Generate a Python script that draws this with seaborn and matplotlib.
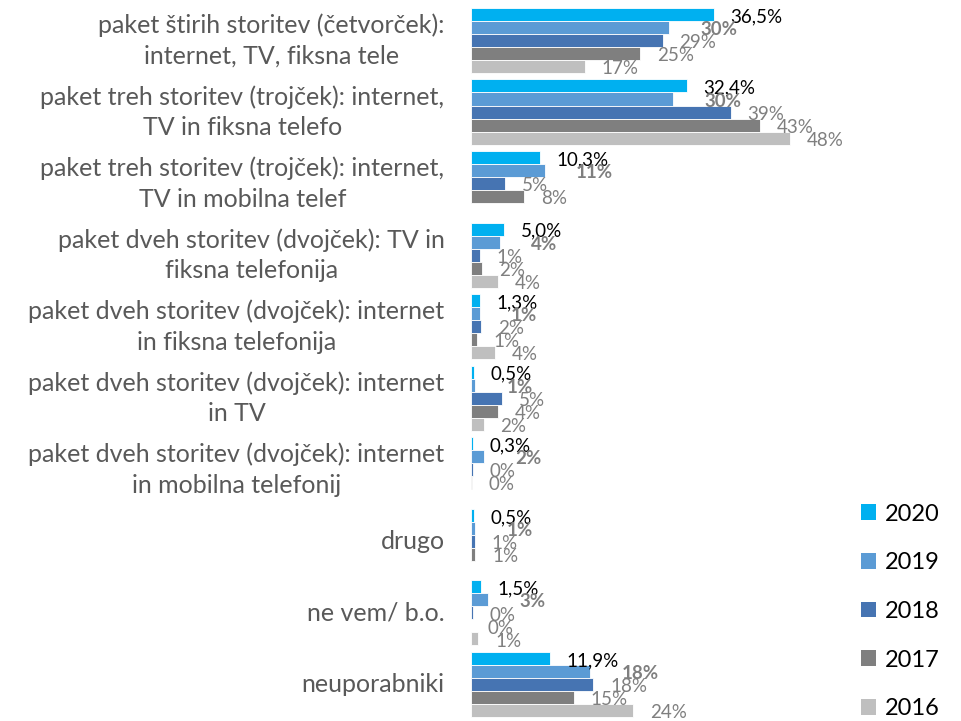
import numpy as np
import pandas as pd
import seaborn as sns
import matplotlib.pyplot as plt
from matplotlib.patches import Patch

# kategorije (od zgoraj navzdol)
kategorije = [
    "paket štirih storitev (četvorček):\ninternet, TV, fiksna tele",
    "paket treh storitev (trojček): internet,\nTV in fiksna telefo",
    "paket treh storitev (trojček): internet,\nTV in mobilna telef",
    "paket dveh storitev (dvojček): TV in\nfiksna telefonija",
    "paket dveh storitev (dvojček): internet\nin fiksna telefonija",
    "paket dveh storitev (dvojček): internet\nin TV",
    "paket dveh storitev (dvojček): internet\nin mobilna telefonij",
    "drugo",
    "ne vem/ b.o.",
    "neuporabniki",
]
leta = ["2020", "2019", "2018", "2017", "2016"]
barve = ["#00B0F0", "#5B9BD5", "#4674B2", "#7F7F7F", "#BFBFBF"]

# deleži v % (NaN = ni podatka)
v2020 = [36.5, 32.4, 10.3, 5.0, 1.3, 0.5, 0.3, 0.5, 1.5, 11.9]
v2019 = [29.7, 30.4, 11.1, 4.3, 1.3, 0.6, 1.9, 0.65, 2.6, 17.9]
v2018 = [28.8, 39.0, 5.1, 1.35, 1.55, 4.65, 0.25, 0.6, 0.35, 18.4]
v2017 = [25.4, 43.4, 8.0, 1.65, 0.85, 4.0, 0.2, 0.65, 0.0, 15.4]
v2016 = [17.1, 47.9, np.nan, 4.1, 3.6, 1.9, np.nan, np.nan, 1.1, 24.4]

df = pd.DataFrame({
    "kategorija": kategorije * 5,
    "leto": np.repeat(leta, len(kategorije)),
    "delez": v2020 + v2019 + v2018 + v2017 + v2016,
})

FONT = ["Lato", "DejaVu Sans"]
sns.set_style("white")
plt.rcParams["font.family"] = FONT

fig = plt.figure(figsize=(9.61, 7.21), dpi=100)
ax = fig.add_axes([0.4901, 0.001, 0.381, 0.9925])

sns.barplot(
    data=df, x="delez", y="kategorija", hue="leto",
    order=kategorije, hue_order=leta, palette=barve,
    orient="h", width=0.91, saturation=1, errorbar=None,
    edgecolor="white", linewidth=0.6, ax=ax,
)

# oznake vrednosti
for leto, cont in zip(leta, ax.containers):
    for bar in cont:
        w = bar.get_width()
        if np.isnan(w):
            continue
        yc = bar.get_y() + bar.get_height() / 2
        if leto == "2020":
            txt = f"{w:.1f}".replace(".", ",") + "%"
            ax.annotate(txt, (w, yc), xytext=(12, -1.5), textcoords="offset points",
                        ha="left", va="center", fontsize=13.5, color="black")
        elif leto == "2019":
            ax.annotate(f"{round(w):.0f}%", (w, yc), xytext=(22.5, -1.5),
                        textcoords="offset points", ha="left", va="center",
                        fontsize=13.5, color="#7F7F7F", fontweight="bold")
        else:
            ax.annotate(f"{round(w):.0f}%", (w, yc), xytext=(12, -1.5),
                        textcoords="offset points", ha="left", va="center",
                        fontsize=13.5, color="#7F7F7F")

ax.set_xlim(0, 55)
ax.set_ylim(9.5, -0.5)
ax.set_xlabel("")
ax.set_ylabel("")
ax.set_xticks([])
sns.despine(ax=ax, left=True, bottom=True)
ax.tick_params(axis="y", length=0, pad=19, labelsize=18, labelcolor="#595959")
for lab in ax.get_yticklabels():
    lab.set_multialignment("center")
    lab.set_linespacing(1.4)
    lab.set_verticalalignment("center")

ax.get_legend().remove()
handles = [Patch(facecolor=c, edgecolor="none") for c in barve]
fig.legend(handles, leta, loc="center left", bbox_to_anchor=(0.896, 0.152),
           frameon=False, fontsize=17, handlelength=0.65, handleheight=0.65,
           handletextpad=0.35, labelspacing=1.17, borderpad=0, borderaxespad=0,
           labelcolor="black")

fig.savefig("out.png", dpi=100, facecolor="white")
